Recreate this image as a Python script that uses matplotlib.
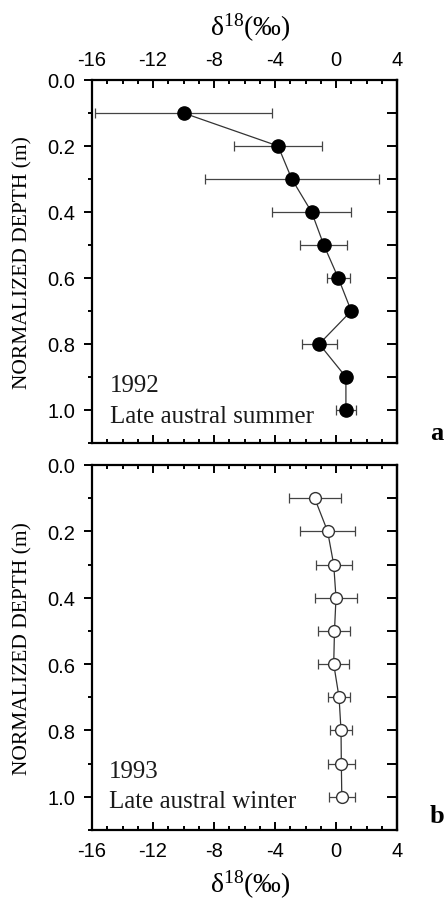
import numpy as np
import matplotlib
matplotlib.use('Agg')
import matplotlib.pyplot as plt
from matplotlib.ticker import MultipleLocator

plt.rcParams['mathtext.fontset'] = 'custom'
plt.rcParams['mathtext.rm'] = 'Liberation Serif'
plt.rcParams['mathtext.it'] = 'Liberation Serif:italic'
plt.rcParams['axes.unicode_minus'] = False

# normalized depth of each sample (m)
depth = [0.1, 0.2, 0.3, 0.4, 0.5, 0.6, 0.7, 0.8, 0.9, 1.0]

# 1992, late austral summer
d18_1992 = [-10.0, -3.8, -2.9, -1.6, -0.8, 0.15, 1.0, -1.1, 0.65, 0.65]
err_1992 = [5.8, 2.9, 5.7, 2.6, 1.55, 0.77, 0.25, 1.15, 0.3, 0.68]

# 1993, late austral winter
d18_1993 = [-1.4, -0.55, -0.15, 0.0, -0.1, -0.15, 0.2, 0.33, 0.35, 0.38]
err_1993 = [1.7, 1.8, 1.18, 1.38, 1.05, 1.03, 0.73, 0.75, 0.88, 0.85]

xticks = [-16, -12, -8, -4, 0, 4]
yticks = [0.0, 0.2, 0.4, 0.6, 0.8, 1.0]

serif = 'Liberation Serif'
sans = 'Liberation Sans'
xlabel = r'δ$^{18}$(‰)'

W, H = 447, 904
fig = plt.figure(figsize=(W / 100, H / 100), dpi=100)
fig.patch.set_facecolor('white')


def px_axes(left, top, right, bottom):
    return fig.add_axes([left / W, 1 - bottom / H, (right - left) / W, (bottom - top) / H])


def style(ax, top_labels):
    ax.set_xlim(-16, 4)
    ax.set_ylim(1.1, 0.0)
    for s in ax.spines.values():
        s.set_linewidth(1.6)
    ax.set_xticks(xticks)
    ax.xaxis.set_minor_locator(MultipleLocator(1))
    ax.set_yticks(yticks)
    ax.yaxis.set_minor_locator(MultipleLocator(0.1))
    ax.set_yticklabels(['%.1f' % v for v in yticks])
    ax.tick_params(axis='x', which='both', direction='in', top=True, bottom=True,
                   labeltop=top_labels, labelbottom=not top_labels, width=1.4,
                   labelsize=14.5, pad=8)
    ax.tick_params(axis='x', which='major', length=6)
    ax.tick_params(axis='x', which='minor', length=3)
    ax.tick_params(axis='y', which='both', direction='out', left=True, right=False,
                   width=1.4, labelsize=14.5, pad=6)
    ax.tick_params(axis='y', which='major', length=6)
    ax.tick_params(axis='y', which='minor', length=3)
    for lab in ax.get_xticklabels() + ax.get_yticklabels():
        lab.set_fontfamily(sans)
    # inward ticks on the right spine
    sec = ax.secondary_yaxis('right')
    sec.set_yticks(np.arange(0.1, 1.01, 0.1))
    sec.tick_params(direction='in', length=7, width=1.4, labelright=False)
    sec.spines['right'].set_linewidth(1.6)
    ax.set_ylabel('NORMALIZED DEPTH (m)', fontfamily=serif, fontsize=15.5)
    ax.yaxis.set_label_coords(-0.195, 0.5)


# top panel: 1992
ax1 = px_axes(92, 81, 397, 444)
ax1.errorbar(d18_1992, depth, xerr=err_1992, fmt='none', ecolor='#444444',
             elinewidth=0.9, capsize=3.5, capthick=0.9, zorder=2)
ax1.plot(d18_1992, depth, '-', color='#333333', lw=0.9, zorder=3)
ax1.plot(d18_1992, depth, 'o', color='black', ms=9.5, zorder=4)
style(ax1, top_labels=True)
ax1.text(0.52, 1.145, xlabel, transform=ax1.transAxes, ha='center', va='center',
         fontfamily=serif, fontsize=20)
ax1.text(0.06, 0.143, '1992', transform=ax1.transAxes, fontfamily=serif,
         fontsize=18, va='baseline', color='#1a1a1a')
ax1.text(0.06, 0.058, 'Late austral summer', transform=ax1.transAxes,
         fontfamily=serif, fontsize=18, va='baseline', color='#1a1a1a')

# bottom panel: 1993
ax2 = px_axes(92, 466, 397, 831)
ax2.errorbar(d18_1993, depth, xerr=err_1993, fmt='none', ecolor='#444444',
             elinewidth=0.9, capsize=3.5, capthick=0.9, zorder=2)
ax2.plot(d18_1993, depth, '-', color='#333333', lw=0.9, zorder=3)
ax2.plot(d18_1993, depth, 'o', mfc='white', mec='#333333', mew=1.0, ms=8.5, zorder=4)
style(ax2, top_labels=False)
ax2.text(0.52, -0.148, xlabel, transform=ax2.transAxes, ha='center', va='center',
         fontfamily=serif, fontsize=20)
ax2.text(0.055, 0.145, '1993', transform=ax2.transAxes, fontfamily=serif,
         fontsize=18, va='baseline', color='#1a1a1a')
ax2.text(0.055, 0.063, 'Late austral winter', transform=ax2.transAxes,
         fontfamily=serif, fontsize=18, va='baseline', color='#1a1a1a')

fig.text(437 / W, 1 - 440 / H, 'a', fontfamily=serif, fontweight='bold',
         fontsize=19, ha='center', va='baseline')
fig.text(437 / W, 1 - 823 / H, 'b', fontfamily=serif, fontweight='bold',
         fontsize=19, ha='center', va='baseline')

fig.savefig('out.png', dpi=100)
